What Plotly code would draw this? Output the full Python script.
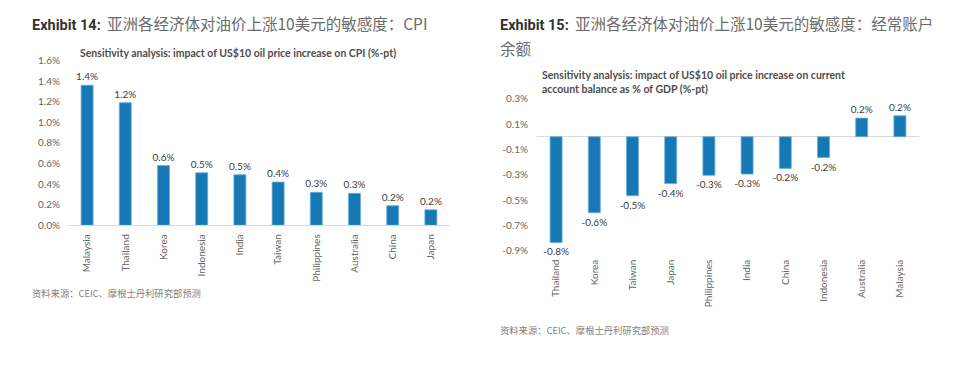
import plotly.graph_objects as go

W, H = 960, 380

# ---- data ----
cpi_countries = ["Malaysia", "Thailand", "Korea", "Indonesia", "India", "Taiwan",
                 "Philippines", "Australia", "China", "Japan"]
cpi_values = [1.36, 1.19, 0.58, 0.51, 0.49, 0.42, 0.32, 0.31, 0.19, 0.15]
cpi_labels = ["1.4%", "1.2%", "0.6%", "0.5%", "0.5%", "0.4%", "0.3%", "0.3%", "0.2%", "0.2%"]
cpi_ticks = [0.0, 0.2, 0.4, 0.6, 0.8, 1.0, 1.2, 1.4, 1.6]
cpi_ticktext = ["0.0%", "0.2%", "0.4%", "0.6%", "0.8%", "1.0%", "1.2%", "1.4%", "1.6%"]

ca_countries = ["Thailand", "Korea", "Taiwan", "Japan", "Philippines", "India", "China",
                "Indonesia", "Australia", "Malaysia"]
ca_values = [-0.835, -0.60, -0.466, -0.37, -0.305, -0.295, -0.25, -0.165, 0.147, 0.166]
ca_labels = ["-0.8%", "-0.6%", "-0.5%", "-0.4%", "-0.3%", "-0.3%", "-0.2%", "-0.2%", "0.2%", "0.2%"]
ca_ticks = [0.3, 0.1, -0.1, -0.3, -0.5, -0.7, -0.9]
ca_ticktext = ["0.3%", "0.1%", "-0.1%", "-0.3%", "-0.5%", "-0.7%", "-0.9%"]

BAR = "#1679b6"
BAR_EDGE = "#6aaedb"
TICK = "#666666"
LBL = "#404040"
FONT = "Lato, 'Open Sans', sans-serif"
CJK = "'Noto Sans CJK SC', sans-serif"


def px_x(x):
    return x / W


def px_y(y):
    return 1 - y / H


fig = go.Figure()

fig.add_trace(go.Bar(
    x=cpi_countries, y=cpi_values, text=cpi_labels, textposition="outside",
    textfont=dict(family=FONT, size=10, color=LBL), cliponaxis=False,
    constraintext="none",
    marker=dict(color=BAR, line=dict(color=BAR_EDGE, width=0.8)),
    xaxis="x", yaxis="y", hoverinfo="skip"))

fig.add_trace(go.Bar(
    x=ca_countries, y=ca_values, text=ca_labels, textposition="outside",
    textfont=dict(family=FONT, size=10, color=LBL), cliponaxis=False,
    constraintext="none",
    marker=dict(color=BAR, line=dict(color=BAR_EDGE, width=0.8)),
    xaxis="x2", yaxis="y2", hoverinfo="skip"))

axfont = dict(family=FONT, size=10, color=TICK)

fig.update_layout(
    width=W, height=H, autosize=False,
    margin=dict(l=0, r=0, t=0, b=0),
    paper_bgcolor="white", plot_bgcolor="white",
    showlegend=False, bargap=0.686,
    xaxis=dict(domain=[px_x(68), px_x(450)], anchor="y", type="category",
               tickangle=-90, tickfont=axfont, showgrid=False, showline=True,
               linecolor="#d9d9d9", linewidth=1, ticks="", ticklabelstandoff=4,
               fixedrange=True),
    yaxis=dict(domain=[px_y(226), px_y(55.4)], anchor="x", range=[0, 1.6],
               tickvals=cpi_ticks, ticktext=cpi_ticktext, tickfont=axfont,
               showgrid=False, zeroline=False, showline=False, ticks="",
               ticklabelstandoff=7, fixedrange=True),
    xaxis2=dict(domain=[px_x(537), px_x(919)], anchor="y2", type="category",
                tickangle=-90, tickfont=axfont, showgrid=False, showline=False,
                ticks="", ticklabelstandoff=6, fixedrange=True),
    yaxis2=dict(domain=[px_y(252.3), px_y(95)], anchor="x2", range=[-0.9, 0.3],
                tickvals=ca_ticks, ticktext=ca_ticktext, tickfont=axfont,
                showgrid=False, zeroline=True, zerolinecolor="#d9d9d9",
                zerolinewidth=1, showline=False, ticks="", ticklabelstandoff=8,
                fixedrange=True),
)


def title_html(num, text):
    return ("<span style=\"font-family:Roboto, Arial, sans-serif;font-weight:bold;color:#333333;font-size:14.5px\">"
            f"Exhibit {num}:</span>&nbsp; "
            f"<span style=\"font-family:{CJK};color:#6b6b6b;font-size:15.5px\">{text}</span>")


ann = []
ann.append(dict(xref="paper", yref="paper", x=px_x(30), y=px_y(17), xanchor="left",
                yanchor="middle", showarrow=False, align="left",
                text=title_html(14, "亚洲各经济体对油价上涨10美元的敏感度：CPI")))
ann.append(dict(xref="paper", yref="paper", x=px_x(498), y=px_y(17), xanchor="left",
                yanchor="middle", showarrow=False, align="left",
                text=title_html(15, "亚洲各经济体对油价上涨10美元的敏感度：经常账户")))
ann.append(dict(xref="paper", yref="paper", x=px_x(498), y=px_y(42), xanchor="left",
                yanchor="middle", showarrow=False, align="left",
                text="余额", font=dict(family=CJK, size=15.5, color="#6b6b6b")))
# chart sub-titles
ann.append(dict(xref="paper", yref="paper", x=px_x(238), y=px_y(48), xanchor="center",
                yanchor="middle", showarrow=False,
                text="<b>Sensitivity analysis: impact of US$10 oil price increase on CPI (%-pt)</b>",
                font=dict(family=FONT, size=10.5, color="#4d4d4d")))
ann.append(dict(xref="paper", yref="paper", x=px_x(540), y=px_y(78), xanchor="left",
                yanchor="middle", showarrow=False, align="left",
                text="<b>Sensitivity analysis: impact of US$10 oil price increase on current<br>account balance as % of GDP (%-pt)</b>",
                font=dict(family=FONT, size=10.5, color="#4d4d4d")))
# footnotes
ann.append(dict(xref="paper", yref="paper", x=px_x(30), y=px_y(296), xanchor="left",
                yanchor="middle", showarrow=False,
                text="资料来源：CEIC、摩根士丹利研究部预测",
                font=dict(family=CJK, size=9.3, color="#7f7f7f")))
ann.append(dict(xref="paper", yref="paper", x=px_x(498), y=px_y(334), xanchor="left",
                yanchor="middle", showarrow=False,
                text="资料来源：CEIC、摩根士丹利研究部预测",
                font=dict(family=CJK, size=9.3, color="#7f7f7f")))
fig.update_layout(annotations=ann)

fig.write_html("out.html", config={"displayModeBar": False},
               post_script="document.body.style.margin='0';")
